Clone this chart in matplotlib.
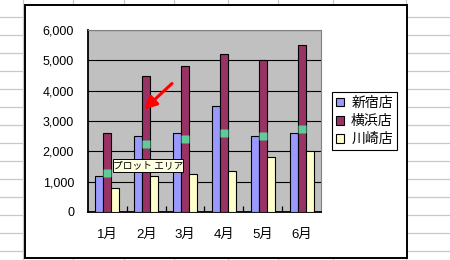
import numpy as np
import matplotlib
matplotlib.use('Agg')
import matplotlib.pyplot as plt
from matplotlib.patches import Rectangle, Patch, FancyArrowPatch

# --- data ---
months = ['1月', '2月', '3月', '4月', '5月', '6月']
shinjuku = [1200, 2500, 2600, 3500, 2500, 2600]
yokohama = [2600, 4500, 4800, 5200, 5000, 5500]
kawasaki = [800, 1200, 1250, 1350, 1800, 2000]
# selection handles shown on the 横浜店 series (bar mid-heights)
handle_vals = [1300, 2250, 2400, 2600, 2500, 2750]
series_names = ['新宿店', '横浜店', '川崎店']
colors = ['#9999FF', '#993366', '#FFFFCC']

W, H = 450, 260
fam = ['Liberation Sans', 'Noto Sans CJK JP']
plt.rcParams['font.family'] = fam

fig = plt.figure(figsize=(W / 100, H / 100), dpi=100)

# --- spreadsheet background + chart frame (pixel coords) ---
bg = fig.add_axes([0, 0, 1, 1])
bg.set_xlim(0, W); bg.set_ylim(H, 0); bg.axis('off')
for y in np.arange(17.3, H, 18):
    bg.plot([0, W], [y, y], color='#C8C8C8', lw=0.9)
for x in [22.5, 72.7, 124.3, 174, 227.7, 278.3, 333.3, 406]:
    bg.plot([x, x], [0, H], color='#C8C8C8', lw=0.9)
bg.add_patch(Rectangle((24.5, 4.5), 382.8, 253.2, facecolor='white',
                       edgecolor='black', lw=1.4, zorder=5))

# --- plot area ---
ax = fig.add_axes([88 / W, (H - 212) / H, 233 / W, 182 / H])
ax.set_facecolor('#C0C0C0')
x = np.arange(len(months))
bw = 0.206
for i, (vals, c) in enumerate(zip([shinjuku, yokohama, kawasaki], colors)):
    ax.bar(x + (i - 1) * bw, vals, width=bw, color=c, edgecolor='black',
           linewidth=0.8, zorder=3)
ax.plot(x, handle_vals, 's', color='#5FCB97', ms=5.2, mec='none', zorder=4)

ax.set_xlim(-0.5, 5.5)
ax.set_ylim(0, 6000)
ax.set_yticks(range(0, 7000, 1000))
ax.set_yticklabels([f'{v:,}' for v in range(0, 7000, 1000)])
ax.yaxis.grid(True, color='black', lw=0.8)
ax.set_axisbelow(True)
ax.set_xticks(x)
ax.set_xticklabels(months)
ax.set_xticks(np.arange(0.5, 5.5, 1), minor=True)
ax.tick_params(axis='x', which='major', length=0, pad=12.5, labelsize=9.5)
ax.tick_params(axis='x', which='minor', direction='in', length=4, width=0.9)
ax.tick_params(axis='y', length=0, pad=10, labelsize=9)
for s in ['top', 'right']:
    ax.spines[s].set_color('#808080'); ax.spines[s].set_linewidth(0.8)
for s in ['left', 'bottom']:
    ax.spines[s].set_color('black'); ax.spines[s].set_linewidth(1.3)

# --- legend ---
handles = [Patch(facecolor=c, edgecolor='black', lw=0.8) for c in colors]
leg = fig.legend(handles, series_names, loc='upper left',
                 bbox_to_anchor=(331.7 / W, (H - 91.7) / H), bbox_transform=fig.transFigure,
                 fancybox=False, edgecolor='black', framealpha=1, borderaxespad=0,
                 borderpad=0.3, handlelength=0.6, handleheight=0.6, handletextpad=0.5,
                 labelspacing=0.3, prop={'family': 'Noto Sans CJK JP', 'size': 10})
leg.get_frame().set_linewidth(0.8)

# --- tooltip and red arrow ---
fig.add_artist(Rectangle((113.3 / W, (H - 172.3) / H), 69.4 / W, 13.3 / H,
                         transform=fig.transFigure, facecolor='#FFFFE1',
                         edgecolor='black', lw=0.7, zorder=2))
fig.text(148 / W, (H - 165.7) / H, 'プロット エリア', ha='center', va='center',
         fontsize=7, family='Noto Sans CJK JP', zorder=3)
fig.add_artist(FancyArrowPatch((172 / W, (H - 83.5) / H), (144 / W, (H - 109.5) / H),
                               transform=fig.transFigure, color='red', lw=2.2,
                               arrowstyle='-|>,head_length=0.5,head_width=0.25',
                               mutation_scale=15, shrinkA=0, shrinkB=0, zorder=3))

fig.savefig('out.png', dpi=100)
